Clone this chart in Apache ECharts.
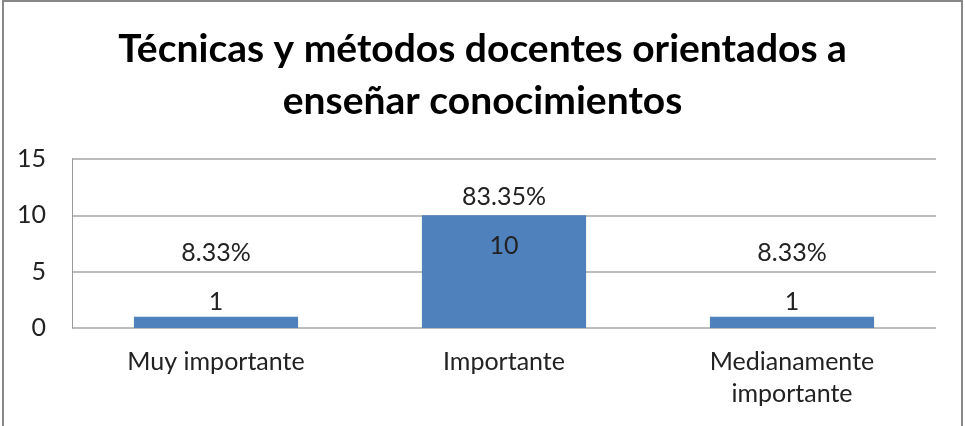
<!DOCTYPE html>
<html>
<head>
<meta charset="utf-8">
<script src="https://cdn.jsdelivr.net/npm/echarts@6/dist/echarts.min.js"></script>
<style>
  html, body { margin: 0; padding: 0; background: #fff; }
  #chart { width: 965px; height: 426px; }
</style>
</head>
<body>
<div id="chart"></div>
<script>
// datos del gráfico
var categorias = ['Muy importante', 'Importante', 'Medianamente importante'];
var valores = [1, 10, 1];
var porcentajes = ['8.33%', '83.35%', '8.33%'];
var ticksY = [0, 5, 10, 15];

var fuente = 'Lato, "Open Sans", sans-serif';
var maximo = Math.max.apply(null, valores);

var chart = echarts.init(document.getElementById('chart'));

var datos = valores.map(function (v, i) {
  var item = { value: v, pct: porcentajes[i] };
  // la etiqueta de la barra alta va dentro de la barra
  if (v === maximo) item.label = { offset: [0, 46] };
  return item;
});

var option = {
  animation: false,
  backgroundColor: '#fff',
  title: {
    text: 'Técnicas y métodos docentes orientados a\nenseñar conocimientos',
    left: 'center',
    top: 18,
    textStyle: {
      fontFamily: fuente,
      fontWeight: 'bold',
      fontSize: 39,
      lineHeight: 52,
      color: '#000'
    }
  },
  graphic: [{
    type: 'rect',
    shape: { x: 3, y: 1, width: 959, height: 440 },
    style: { fill: 'none', stroke: '#888', lineWidth: 2 },
    silent: true
  }],
  grid: { left: 72, right: 29, top: 159, bottom: 98 },
  xAxis: {
    type: 'category',
    data: categorias,
    axisLine: { show: false },
    axisTick: { show: false },
    axisLabel: {
      fontFamily: fuente,
      fontSize: 25,
      color: '#222',
      margin: 18,
      lineHeight: 32,
      formatter: function (s) { return s.length > 15 ? s.replace(' ', '\n') : s; }
    }
  },
  yAxis: {
    type: 'value',
    min: ticksY[0],
    max: ticksY[ticksY.length - 1],
    interval: ticksY[1] - ticksY[0],
    axisLine: { show: true, lineStyle: { color: '#999', width: 1 } },
    axisTick: { show: false },
    splitLine: { lineStyle: { color: '#a6a6a6', width: 1.5 } },
    axisLabel: {
      fontFamily: fuente,
      fontSize: 25,
      color: '#222',
      margin: 26
    }
  },
  series: [{
    type: 'bar',
    data: datos,
    barWidth: '57%',
    itemStyle: { color: '#4f81bd' },
    label: {
      show: true,
      position: 'top',
      distance: 5,
      formatter: function (p) { return '{p|' + p.data.pct + '}\n{v|' + p.value + '}'; },
      rich: {
        p: { fontFamily: fuente, fontSize: 25, color: '#222', lineHeight: 78 },
        v: { fontFamily: fuente, fontSize: 25, color: '#222', lineHeight: 20 }
      }
    }
  }]
};

chart.setOption(option);
</script>
</body>
</html>
